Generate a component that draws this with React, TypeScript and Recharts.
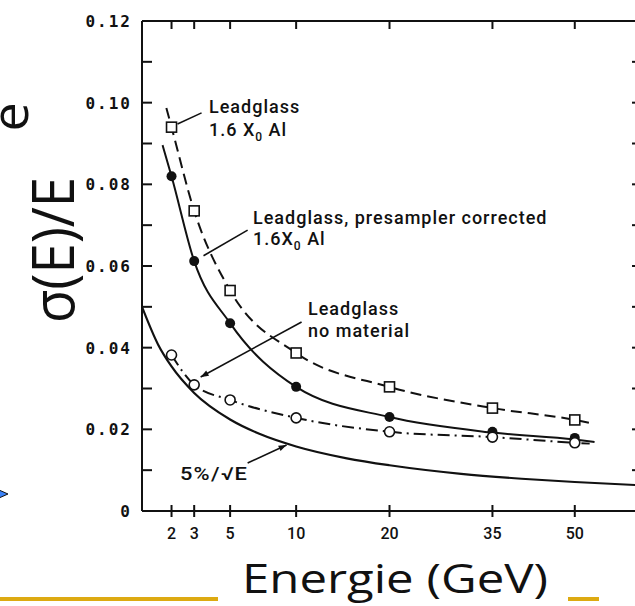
import React from 'react';
import { ComposedChart, Line, Scatter, XAxis, YAxis, ReferenceLine } from 'recharts';

// measured points (GeV, sigma/E)
const energies = [2, 3, 5, 10, 20, 35, 50];
const alPoints = [0.094, 0.0735, 0.054, 0.0387, 0.0304, 0.0252, 0.0223];
const corrPoints = [0.082, 0.0612, 0.046, 0.0304, 0.023, 0.0194, 0.0179];
const noMatPoints = [0.0382, 0.0309, 0.0272, 0.0228, 0.0194, 0.0181, 0.0167];

// fitted curves
const alFitE = [1.8, 2, 3, 5, 10, 20, 35, 50, 54];
const alFitV = [0.0987, 0.094, 0.0735, 0.054, 0.0387, 0.0304, 0.0252, 0.0223, 0.0213];
const corrFitE = [1.66, 2, 3, 5, 10, 20, 35, 50, 54];
const corrFitV = [0.0896, 0.082, 0.0612, 0.046, 0.0304, 0.023, 0.0192, 0.0175, 0.0169];
const noMatFitE = [2, 3, 5, 10, 20, 35, 50, 53];
const noMatFitV = [0.0382, 0.0309, 0.0272, 0.0228, 0.0194, 0.0181, 0.0167, 0.0165];
const stochE = [1, 1.5, 2, 3, 5, 7, 10, 15, 20, 30, 40, 50, 64];
const stochV = [0.05, 0.0408, 0.0354, 0.0289, 0.0224, 0.0189, 0.0158, 0.0129, 0.0112, 0.0091, 0.0079, 0.0071, 0.0063];

const xTicks = [2, 3, 5, 10, 20, 35, 50];
const yTicks = [0, 0.01, 0.02, 0.03, 0.04, 0.05, 0.06, 0.07, 0.08, 0.09, 0.1, 0.11, 0.12];
const yTickLabels = ['0', '', '0.02', '', '0.04', '', '0.06', '', '0.08', '', '0.10', '', '0.12'];

// leader lines from labels to curves (arrow drawn at the first end when set)
const leaders = [
  { a: [2.245, 0.0948], b: [3.37, 0.0975], arrow: false },
  { a: [3.47, 0.0625], b: [6.16, 0.0688], arrow: false },
  { a: [3.32, 0.0328], b: [10.49, 0.0463], arrow: true },
  { a: [9.17, 0.01616], b: [6.16, 0.01176], arrow: true },
];

const pts = (xs: number[], ys: number[]) => xs.map((e, i) => ({ e, v: ys[i] }));

const INK = '#111';

const BottomTick = (p: any) => (
  <g>
    <line x1={p.x} y1={p.y - 6} x2={p.x} y2={p.y + 6} stroke={INK} strokeWidth={2} />
    <text x={p.x} y={p.y + 28} textAnchor="middle" fontFamily="Roboto" fontSize={16} fontWeight={500} fill={INK}>
      {p.payload.value}
    </text>
  </g>
);

const TopTick = (p: any) => <line x1={p.x} y1={p.y} x2={p.x} y2={p.y + 8} stroke={INK} strokeWidth={2} />;

const LeftTick = (p: any) => (
  <g>
    <line x1={p.x} y1={p.y} x2={p.x + 10} y2={p.y} stroke={INK} strokeWidth={2} />
    <text x={p.x - 10} y={p.y + 6} textAnchor="end" fontFamily="DejaVu Sans Mono" fontSize={16} fontWeight="bold" letterSpacing={2} fill={INK}>
      {yTickLabels[p.index]}
    </text>
  </g>
);

const RightTick = (p: any) => <line x1={p.x} y1={p.y} x2={p.x - 9} y2={p.y} stroke={INK} strokeWidth={2} />;

const Square = (p: any) => <rect x={p.cx - 5} y={p.cy - 5} width={10} height={10} fill="#fff" stroke={INK} strokeWidth={1.6} />;
const FilledDot = (p: any) => <circle cx={p.cx} cy={p.cy} r={5} fill={INK} />;
const OpenDot = (p: any) => <circle cx={p.cx} cy={p.cy} r={5} fill="#fff" stroke={INK} strokeWidth={1.6} />;

const Leader = (arrow: boolean) => (p: any) => {
  const { x1, y1, x2, y2 } = p;
  const ang = Math.atan2(y1 - y2, x1 - x2);
  const L = 8;
  const W = 3;
  const bx = x1 - L * Math.cos(ang);
  const by = y1 - L * Math.sin(ang);
  const nx = -Math.sin(ang) * W;
  const ny = Math.cos(ang) * W;
  return (
    <g>
      <line x1={x1} y1={y1} x2={x2} y2={y2} stroke={INK} strokeWidth={1.6} />
      {arrow && <polygon points={`${x1},${y1} ${bx + nx},${by + ny} ${bx - nx},${by - ny}`} fill={INK} />}
    </g>
  );
};

const annoFont = { fontFamily: 'Roboto', fontSize: 18, fontWeight: 500, fill: INK, letterSpacing: 1 } as const;

export default function App() {
  return (
    <div style={{ position: 'fixed', left: 0, top: 0, width: 635, height: 606, overflow: 'hidden', background: '#fff' }}>
      <div style={{ position: 'absolute', left: 0, top: 0 }}>
        <ComposedChart width={660} height={606} margin={{ top: 11, right: 9, bottom: 65, left: 82 }}>
          <XAxis xAxisId="b" dataKey="e" type="number" scale="sqrt" domain={[1, 64]} allowDataOverflow ticks={xTicks}
            orientation="bottom" height={30} axisLine={{ stroke: INK, strokeWidth: 2 }} tickLine={false} tickSize={0} tickMargin={0} tick={BottomTick} />
          <XAxis xAxisId="t" dataKey="e" type="number" scale="sqrt" domain={[1, 64]} allowDataOverflow ticks={xTicks}
            orientation="top" height={10} axisLine={{ stroke: INK, strokeWidth: 2 }} tickLine={false} tickSize={0} tickMargin={0} tick={TopTick} />
          <YAxis yAxisId="l" type="number" domain={[0, 0.12]} allowDataOverflow ticks={yTicks} width={60}
            axisLine={{ stroke: INK, strokeWidth: 2 }} tickLine={false} tickSize={0} tickMargin={0} tick={LeftTick} />
          <YAxis yAxisId="r" orientation="right" type="number" domain={[0, 0.12]} allowDataOverflow ticks={yTicks} width={10}
            axisLine={{ stroke: INK, strokeWidth: 2 }} tickLine={false} tickSize={0} tickMargin={0} tick={RightTick} />

          <Line xAxisId="b" yAxisId="l" data={pts(stochE, stochV)} dataKey="v" type="monotone" stroke={INK} strokeWidth={2.2} dot={false} isAnimationActive={false} />
          <Line xAxisId="b" yAxisId="l" data={pts(alFitE, alFitV)} dataKey="v" type="monotone" stroke={INK} strokeWidth={2} strokeDasharray="11 6" dot={false} isAnimationActive={false} />
          <Line xAxisId="b" yAxisId="l" data={pts(corrFitE, corrFitV)} dataKey="v" type="monotone" stroke={INK} strokeWidth={2} dot={false} isAnimationActive={false} />
          <Line xAxisId="b" yAxisId="l" data={pts(noMatFitE, noMatFitV)} dataKey="v" type="monotone" stroke={INK} strokeWidth={2} strokeDasharray="12 5 2 5" dot={false} isAnimationActive={false} />

          <Scatter xAxisId="b" yAxisId="l" data={pts(energies, alPoints)} dataKey="v" shape={Square} isAnimationActive={false} />
          <Scatter xAxisId="b" yAxisId="l" data={pts(energies, corrPoints)} dataKey="v" shape={FilledDot} isAnimationActive={false} />
          <Scatter xAxisId="b" yAxisId="l" data={pts(energies, noMatPoints)} dataKey="v" shape={OpenDot} isAnimationActive={false} />

          {leaders.map((l, i) => (
            <ReferenceLine key={i} xAxisId="b" yAxisId="l" segment={[{ x: l.a[0], y: l.a[1] }, { x: l.b[0], y: l.b[1] }]} shape={Leader(l.arrow)} />
          ))}
        </ComposedChart>
      </div>

      <svg width={635} height={606} style={{ position: 'absolute', left: 0, top: 0, pointerEvents: 'none' }}>
        <text x={209} y={113} {...annoFont}>Leadglass</text>
        <text x={209} y={136} {...annoFont}>1.6 X<tspan fontSize={12} dy={5}>0</tspan><tspan dy={-5}>  Al</tspan></text>
        <text x={253} y={224} {...annoFont}>Leadglass, presampler corrected</text>
        <text x={253} y={245} {...annoFont}>1.6X<tspan fontSize={12} dy={5}>0</tspan><tspan dy={-5}>  Al</tspan></text>
        <text x={308} y={315} {...annoFont}>Leadglass</text>
        <text x={308} y={337} {...annoFont}>no material</text>
        <text x={180} y={480} {...annoFont} textLength={68} lengthAdjust="spacingAndGlyphs">5%/√E</text>

        <text x={74} y={250} transform="rotate(-90 74 250)" textAnchor="middle" fontFamily="Open Sans" fontSize={58} textLength={146} lengthAdjust="spacingAndGlyphs" fill={INK}>σ(E)/E</text>
        <text x={28} y={117} transform="rotate(-90 28 117)" textAnchor="middle" fontFamily="Open Sans" fontSize={52} fill={INK}>e</text>
        <text x={242} y={593} fontFamily="Open Sans" fontSize={41} textLength={306} lengthAdjust="spacingAndGlyphs" fill={INK}>Energie (GeV)</text>

        <polygon points="-10,486 8,494 -10,502" fill="#3b82f6" stroke={INK} strokeWidth={1} />
        <rect x={0} y={597} width={218} height={4} fill="#DDAA11" />
        <rect x={568} y={597} width={31} height={4} fill="#DDAA11" />
      </svg>
    </div>
  );
}
